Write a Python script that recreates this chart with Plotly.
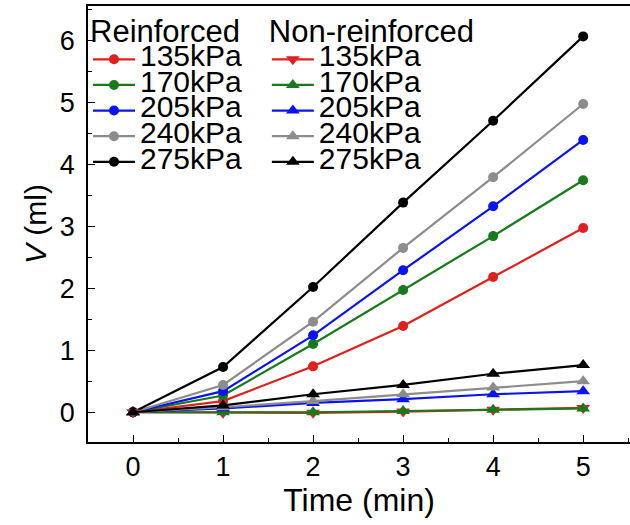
import plotly.graph_objects as go

time = [0, 1, 2, 3, 4, 5]
pressures = ["135kPa", "170kPa", "205kPa", "240kPa", "275kPa"]
colors = ["#e0201e", "#177a1c", "#0a14f0", "#8c8c8c", "#000000"]

reinforced_135 = [0, 0.18, 0.74, 1.39, 2.18, 2.97]
reinforced_170 = [0, 0.27, 1.10, 1.97, 2.84, 3.74]
reinforced_205 = [0, 0.34, 1.24, 2.29, 3.32, 4.39]
reinforced_240 = [0, 0.44, 1.46, 2.65, 3.79, 4.97]
reinforced_275 = [0, 0.73, 2.02, 3.38, 4.70, 6.06]

nonreinf_135 = [0, -0.01, -0.01, 0.01, 0.04, 0.07]
nonreinf_170 = [0, 0.00, 0.00, 0.02, 0.04, 0.06]
nonreinf_205 = [0, 0.06, 0.15, 0.21, 0.29, 0.34]
nonreinf_240 = [0, 0.08, 0.18, 0.29, 0.40, 0.50]
nonreinf_275 = [0, 0.11, 0.29, 0.44, 0.62, 0.76]

reinforced = [reinforced_135, reinforced_170, reinforced_205, reinforced_240, reinforced_275]
nonreinf = [nonreinf_135, nonreinf_170, nonreinf_205, nonreinf_240, nonreinf_275]
nr_symbols = ["triangle-down", "triangle-up", "triangle-up", "triangle-up", "triangle-up"]

FONT = "Liberation Sans, Arial, sans-serif"
LEG_TXT = '<span style="font-size:30px">{}</span>'

fig = go.Figure()
for i in range(5):
    fig.add_trace(go.Scatter(
        x=time, y=reinforced[i], mode="lines+markers", name=LEG_TXT.format(pressures[i]),
        line=dict(color=colors[i], width=2.2),
        marker=dict(symbol="circle", size=10, color=colors[i]),
        legend="legend"))
for i in range(5):
    fig.add_trace(go.Scatter(
        x=time, y=nonreinf[i], mode="lines+markers", name=LEG_TXT.format(pressures[i]),
        line=dict(color=colors[i], width=2.2),
        marker=dict(symbol=nr_symbols[i], size=12, color=colors[i]),
        legend="legend2"))

fig.update_layout(
    width=630, height=525,
    margin=dict(l=88, r=0, t=6, b=83, autoexpand=False),
    paper_bgcolor="white", plot_bgcolor="white",
    font=dict(family=FONT, size=22, color="black"),
    legend=dict(x=0.0, y=1.011, xanchor="left", yanchor="top",
                bgcolor="rgba(0,0,0,0)", font=dict(size=17.4),
                title=dict(text="Reinforced", font=dict(size=31)),
                tracegroupgap=0, itemwidth=42, traceorder="normal"),
    legend2=dict(x=0.33, y=1.011, xanchor="left", yanchor="top",
                 bgcolor="rgba(0,0,0,0)", font=dict(size=17.4),
                 title=dict(text="Non-reinforced", font=dict(size=31)),
                 tracegroupgap=0, itemwidth=42, traceorder="normal"),
    xaxis=dict(range=[-0.5, 5.52], dtick=1, tick0=0, showgrid=False, zeroline=False,
               showline=True, linecolor="black", linewidth=1.5, mirror=True,
               ticks="inside", ticklen=7, tickcolor="black",
               minor=dict(dtick=0.5, ticks="inside", ticklen=4, tickcolor="black"),
               tickfont=dict(size=27),
               title=dict(text="Time (min)", font=dict(size=32), standoff=6)),
    yaxis=dict(range=[-0.48, 6.55], dtick=1, tick0=0, showgrid=False, zeroline=False,
               showline=True, linecolor="black", linewidth=1.5,
               ticks="inside", ticklen=7, tickcolor="black", ticklabelstandoff=6,
               minor=dict(dtick=0.5, ticks="inside", ticklen=4, tickcolor="black"),
               tickfont=dict(size=27),
               title=dict(text="<i>V</i> (ml)", font=dict(size=30), standoff=4)),
)

fig.write_html("out.html")
